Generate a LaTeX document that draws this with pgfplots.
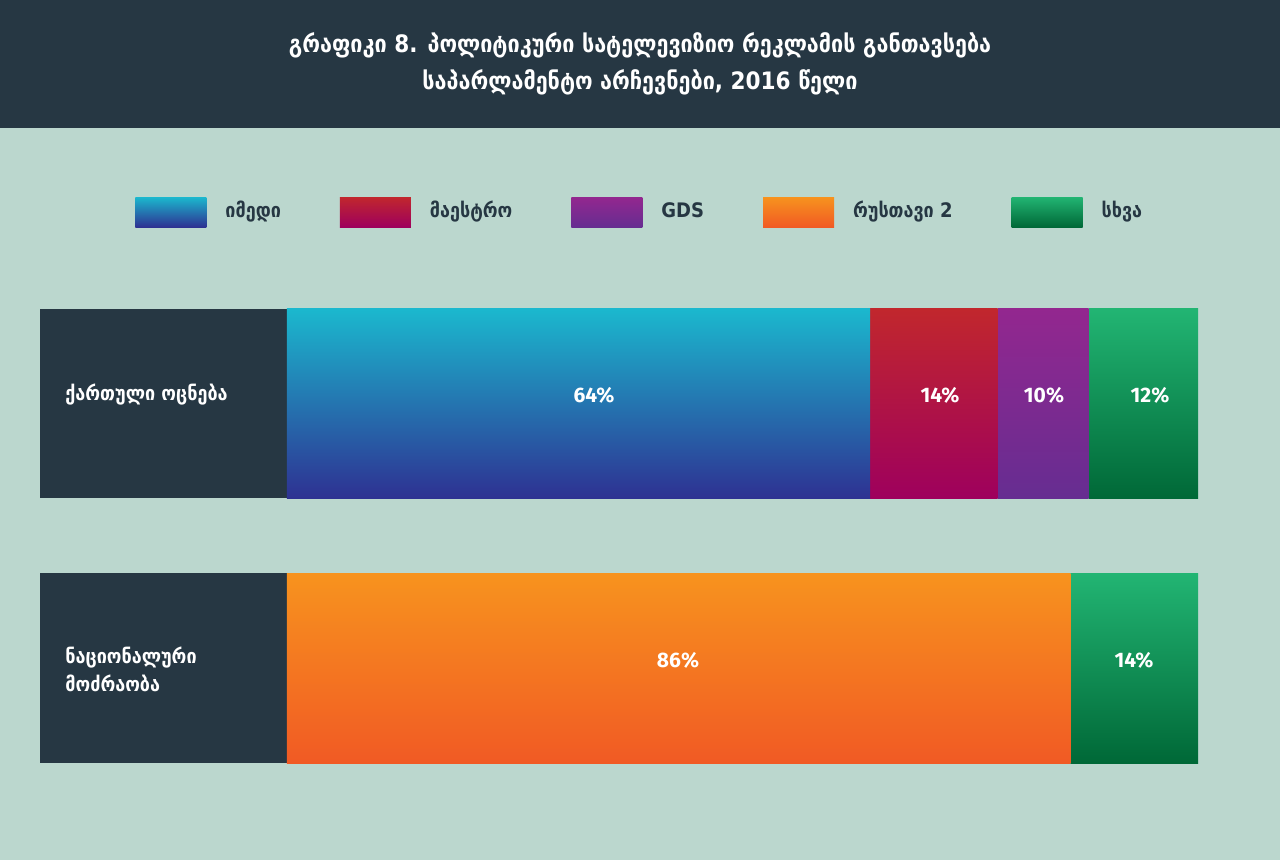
\documentclass[border=0pt]{standalone}
\usepackage{pgfplots}
\pgfplotsset{compat=1.18}
\usepackage{fontspec}
\newfontfamily\geofont{DejaVu Sans Condensed}
\newfontfamily\numfont{Fira Sans}
\definecolor{dark}{HTML}{263743}
\definecolor{bg}{HTML}{BBD7CE}
\definecolor{imT}{HTML}{1BB8CE}
\definecolor{imB}{HTML}{2E3192}
\definecolor{maT}{HTML}{C1272D}
\definecolor{maB}{HTML}{9E005D}
\definecolor{gdT}{HTML}{93278F}
\definecolor{gdB}{HTML}{662D91}
\definecolor{ruT}{HTML}{F7931E}
\definecolor{ruB}{HTML}{F15A24}
\definecolor{otT}{HTML}{22B573}
\definecolor{otB}{HTML}{006837}
\begin{document}
\begin{tikzpicture}
\begin{scope}[x=0.5pt,y=-0.5pt]
\fill[bg] (0,0) rectangle (1280,860);
\fill[dark] (0,0) rectangle (1280,128);
\fill[dark] (40,309) rectangle (287,498);
\fill[dark] (40,573) rectangle (287,763);
\end{scope}
\begin{axis}[
  at={(20pt,0pt)}, anchor=north west,
  scale only axis, width=579pt, height=430pt,
  xmin=-27.11, xmax=100, ymin=0, ymax=860, y dir=reverse,
  xbar stacked, bar width=95pt,
  axis line style={draw=none}, ticks=none,
  legend columns=5,
  legend style={at={(axis cs:-16.68,212)}, anchor=west, draw=none, fill=none,
    inner sep=0pt, font=\geofont\bfseries\fontsize{10}{12}\selectfont, text=dark,
    nodes={text height=7pt, text depth=2pt},
    /tikz/every odd column/.append style={column sep=7.5pt},
    /tikz/every even column/.append style={column sep=27.5pt}},
  legend image code/.code={\path[#1,draw=none] (0pt,-7.5pt) rectangle (35.5pt,7.5pt);},
]
\addplot[draw=none, top color=imT, bottom color=imB] coordinates {(64,403.5) (0,668)};
\addplot[draw=none, top color=maT, bottom color=maB] coordinates {(14,403.5) (0,668)};
\addplot[draw=none, top color=gdT, bottom color=gdB] coordinates {(10,403.5) (0,668)};
\addplot[draw=none, top color=ruT, bottom color=ruB] coordinates {(0,403.5) (86,668)};
\addplot[draw=none, top color=otT, bottom color=otB] coordinates {(12,403.5) (0,668)};
\addplot[draw=none, top color=otT, bottom color=otB] coordinates {(0,403.5) (14,668)};
\legend{იმედი, მაესტრო, GDS, რუსთავი 2, სხვა}
\end{axis}
\begin{scope}[x=0.5pt,y=-0.5pt]
\node[text=white,font=\geofont\bfseries\fontsize{12}{14}\selectfont] at (640,45) {გრაფიკი 8. პოლიტიკური სატელევიზიო რეკლამის განთავსება};
\node[text=white,font=\geofont\bfseries\fontsize{12}{14}\selectfont] at (640,82) {საპარლამენტო არჩევნები, 2016 წელი};
\foreach \x/\y/\t in {594/395/64, 940/395/14, 1044/395/10, 1150/395/12, 678/660/86, 1134/660/14}
  \node[text=white,font=\numfont\bfseries\fontsize{10.5}{12}\selectfont] at (\x,\y) {\t\%};
\node[anchor=west,text=white,font=\geofont\bfseries\fontsize{10}{12}\selectfont,inner sep=0pt] at (65,395) {ქართული ოცნება};
\node[anchor=west,align=left,text=white,font=\geofont\bfseries\fontsize{10}{14}\selectfont,inner sep=0pt] at (65,669) {ნაციონალური\\მოძრაობა};
\end{scope}
\pgfresetboundingbox
\useasboundingbox (0,0) rectangle (640pt,-430pt);
\end{tikzpicture}
\end{document}
